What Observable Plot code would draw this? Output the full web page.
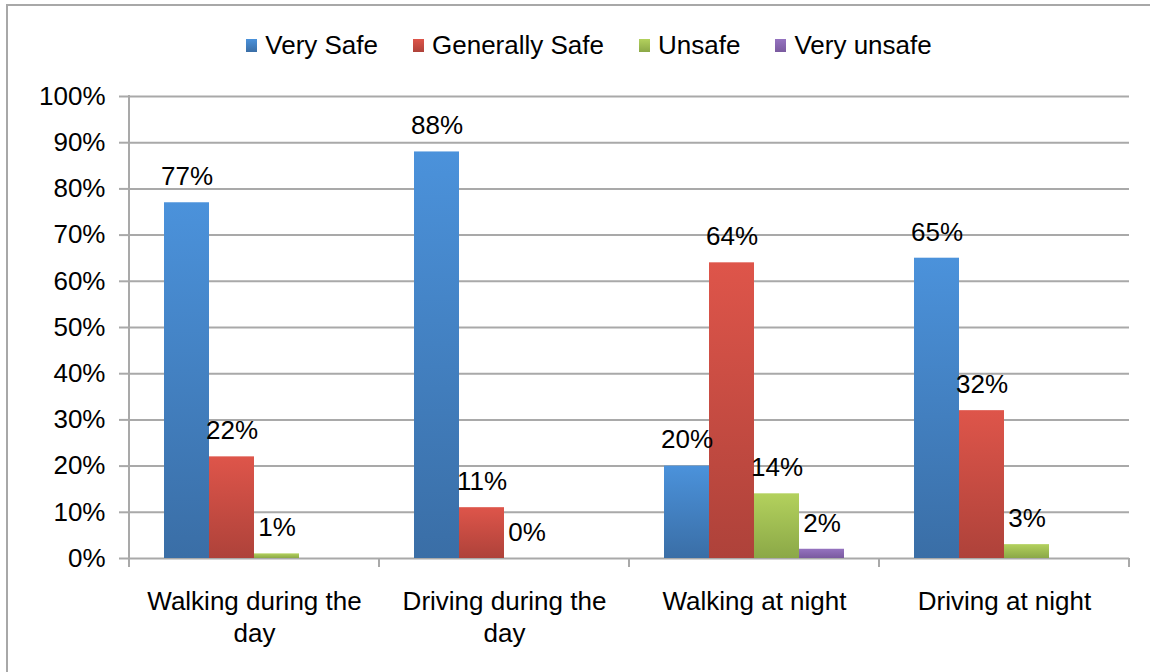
<!DOCTYPE html>
<html>
<head>
<meta charset="utf-8">
<script src="https://cdn.jsdelivr.net/npm/d3@7"></script>
<script src="https://cdn.jsdelivr.net/npm/@observablehq/plot@0.6"></script>
<style>
  html, body { margin: 0; padding: 0; background: #fff; }
  body { width: 1150px; height: 672px; overflow: hidden; position: relative;
         font-family: "Liberation Sans", Arial, Helvetica, sans-serif; }
  #frame { position: absolute; left: 6px; top: 4px; width: 1200px; height: 720px;
           border: 2px solid #a8a8a8; box-sizing: border-box; }
  #legend { position: absolute; left: 0; top: 26px; width: 1178px; height: 38px;
            display: flex; justify-content: center; align-items: center; gap: 35px;
            font-size: 26px; color: #000; }
  #legend .item { display: flex; align-items: center; }
  #legend .sw { width: 11px; height: 13px; margin-right: 8px; }
  #chart { position: absolute; left: 0; top: 70px; }
</style>
</head>
<body>
<div id="frame"></div>
<div id="legend"></div>
<div id="chart"></div>
<script>
const categories = ["Walking during the day", "Driving during the day", "Walking at night", "Driving at night"];
const categoryLabels = ["Walking during the\nday", "Driving during the\nday", "Walking at night", "Driving at night"];
const series = ["Very Safe", "Generally Safe", "Unsafe", "Very unsafe"];
const verySafe = [0.77, 0.88, 0.20, 0.65];
const generallySafe = [0.22, 0.11, 0.64, 0.32];
const unsafe = [0.01, 0.00, 0.14, 0.03];
const veryUnsafe = [null, null, 0.02, null];
const yTicks = [0, 0.1, 0.2, 0.3, 0.4, 0.5, 0.6, 0.7, 0.8, 0.9, 1.0];
const colorTop = ["#4b92db", "#de554a", "#b3d15d", "#9573c0"];
const colorBottom = ["#3a6ea6", "#ae423a", "#8ba847", "#7a5a9f"];

const seriesValues = [verySafe, generallySafe, unsafe, veryUnsafe];
const data = [];
series.forEach((s, si) => {
  categories.forEach((c, ci) => {
    const v = seriesValues[si][ci];
    if (v !== null) data.push({category: c, series: s, si, value: v});
  });
});

// Legend
const legend = d3.select("#legend");
series.forEach((s, i) => {
  const it = legend.append("div").attr("class", "item");
  it.append("div").attr("class", "sw")
    .style("background", `linear-gradient(${colorTop[i]}, ${colorBottom[i]})`);
  it.append("span").text(s);
});

const gridColor = "#a9a9a9";

const plot = Plot.plot({
  width: 1150,
  height: 602,
  marginLeft: 128,
  marginRight: 20,
  marginTop: 26,
  marginBottom: 114,
  style: {fontFamily: "'Liberation Sans', Arial, Helvetica, sans-serif", fontSize: "26px", color: "#000", background: "transparent", overflow: "visible"},
  fx: {domain: categories, padding: 0, axis: null},
  x: {domain: series, paddingInner: 0, paddingOuter: 0.723, axis: null},
  y: {domain: [0, 1]},
  marks: [
    Plot.gridY(yTicks, {stroke: gridColor, strokeOpacity: 1, strokeWidth: 2}),
    Plot.axisY(yTicks, {tickFormat: d3.format(".0%"), tickSize: 10, tickPadding: 14, stroke: gridColor, strokeWidth: 2, fontSize: 26, label: null}),
    ...series.map((s, i) => Plot.barY(data.filter(d => d.si === i), {
      fx: "category", x: "series", y: "value", fill: `url(#grad${i})`
    })),
    Plot.text(data, {
      fx: "category", x: "series", y: "value",
      text: d => Math.round(d.value * 100) + "%",
      dy: -26, fontSize: 26, fill: "#000"
    }),
    Plot.text(categories, {
      fx: d => d, frameAnchor: "bottom",
      text: (d, i) => categoryLabels[i],
      lineAnchor: "top", dy: 29, lineHeight: 1.23, fontSize: 26, fill: "#000"
    })
  ]
});

const svg = d3.select(plot);
const defs = svg.insert("defs", ":first-child");
colorTop.forEach((c, i) => {
  const g = defs.append("linearGradient").attr("id", `grad${i}`)
    .attr("x1", 0).attr("y1", 0).attr("x2", 0).attr("y2", 1);
  g.append("stop").attr("offset", "0%").attr("stop-color", c);
  g.append("stop").attr("offset", "100%").attr("stop-color", colorBottom[i]);
});

// category boundary ticks and vertical axis line, positioned with the plot's scales
const fx = plot.scale("fx");
const y = plot.scale("y");
const edges = categories.map(c => fx.apply(c));
edges.push(fx.apply(categories[categories.length - 1]) + fx.bandwidth);
const g = svg.append("g").attr("stroke", gridColor).attr("stroke-width", 2);
g.append("line")
  .attr("x1", edges[0]).attr("x2", edges[0])
  .attr("y1", y.apply(1) - 1).attr("y2", y.apply(0) + 9);
edges.forEach(x => {
  g.append("line").attr("x1", x).attr("x2", x)
    .attr("y1", y.apply(0)).attr("y2", y.apply(0) + 9);
});

document.getElementById("chart").appendChild(plot);
</script>
</body>
</html>
